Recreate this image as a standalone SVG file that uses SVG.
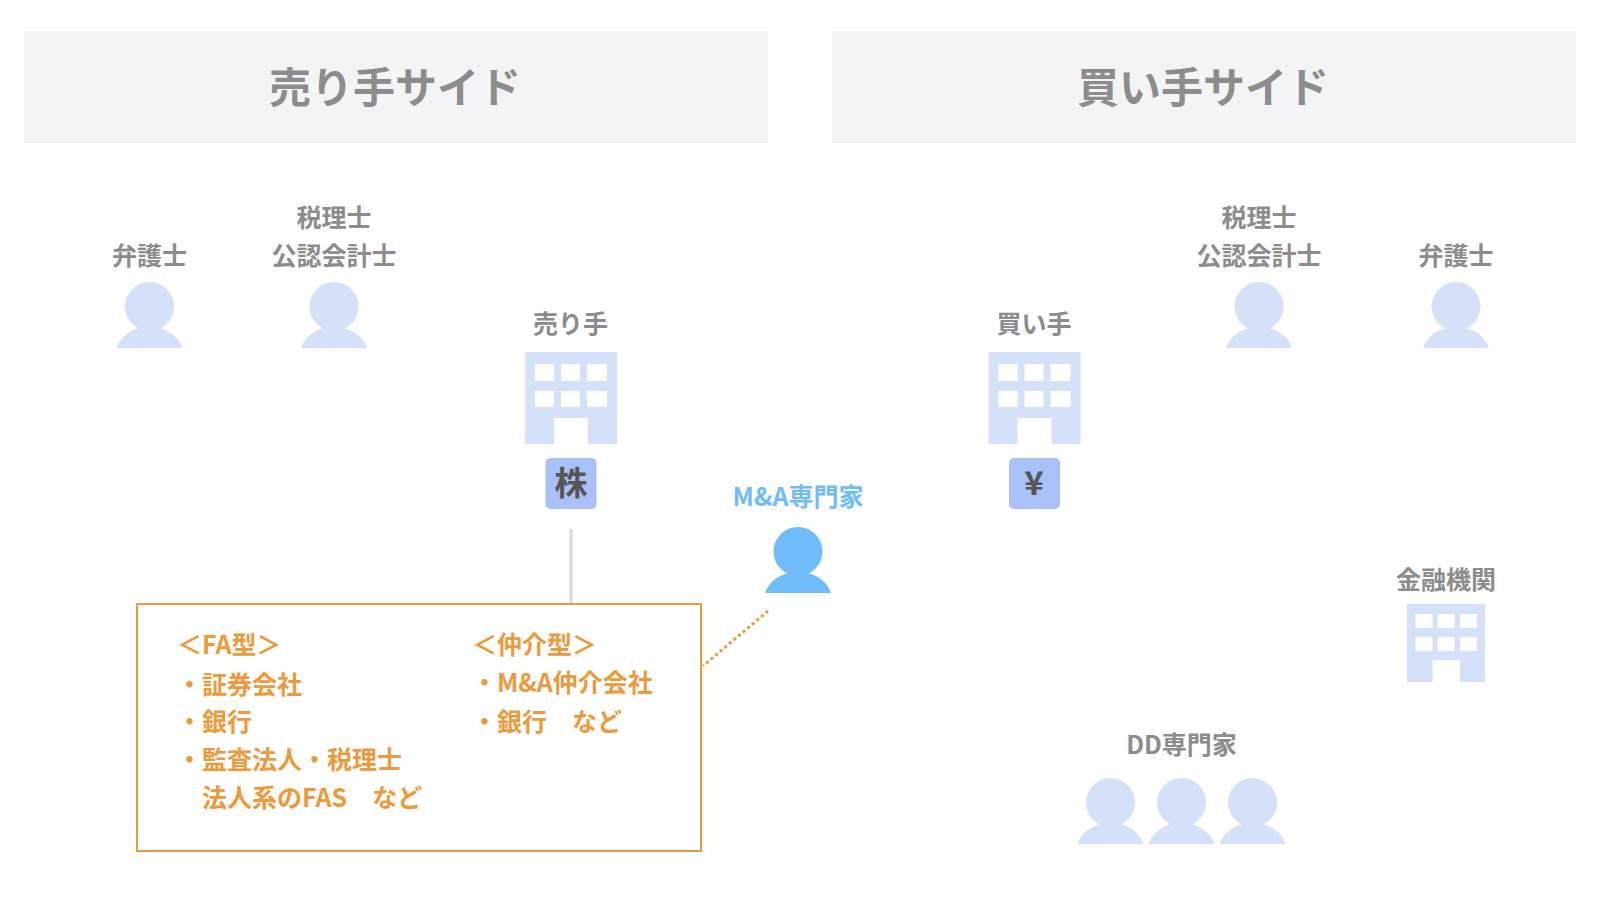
<svg xmlns="http://www.w3.org/2000/svg" width="1600" height="900" viewBox="0 0 1600 900">
<style>
text{font-family:"Noto Sans CJK JP","Liberation Sans",sans-serif;font-weight:700}
.h{font-size:42px;fill:#8c8c8c;text-anchor:middle}
.l{font-size:25px;fill:#8c8c8c;text-anchor:middle}
.o{font-size:25px;fill:#ec9a3c}
.b{font-size:33px;fill:#555;text-anchor:middle}
.hd{fill:#f4f4f6}
.p{fill:#d5e0f9}
.w{fill:#fff}
.bd{fill:#a9c1f8}
</style>
<defs>
<g id="person">
<ellipse cx="0" cy="24.5" rx="24.5" ry="24.5"/>
<path d="M-33 66C-28 52 -15 45 0 45C15 45 28 52 33 66Z"/>
</g>
<g id="bld">
<rect class="p" x="0" y="0" width="92" height="92"/>
<g class="w">
<rect x="10" y="12" width="19" height="17"/><rect x="36" y="12" width="19" height="17"/><rect x="62" y="12" width="20" height="17"/>
<rect x="10" y="39" width="19" height="16"/><rect x="36" y="39" width="19" height="16"/><rect x="62" y="39" width="20" height="16"/>
<rect x="29" y="66" width="34" height="26"/>
</g>
</g>
</defs>
<rect width="1600" height="900" fill="#fff"/>
<g id="header-seller"><rect class="hd" x="24" y="31" width="744" height="112"/><text class="h" x="395" y="102.500">売り手サイド</text></g>
<g id="header-buyer"><rect class="hd" x="832" y="31" width="744" height="112"/><text class="h" x="1203" y="102.500">買い手サイド</text></g>
<g id="connectors">
<line x1="571" y1="529" x2="571" y2="604" stroke="#d9d9d9" stroke-width="3"/>
<line x1="768" y1="611" x2="703" y2="666" stroke="#ec9a3c" stroke-width="3" stroke-dasharray="3 3"/>
</g>
<g id="s-lawyer"><text class="l" x="149.500" y="264.500">弁護士</text><use href="#person" class="p" x="149.500" y="282"/></g>
<g id="s-tax"><text class="l" x="334" y="227">税理士</text><text class="l" x="334" y="264.500">公認会計士</text><use href="#person" class="p" x="334" y="282"/></g>
<g id="seller"><text class="l" x="570.500" y="332.500">売り手</text><use href="#bld" x="525" y="352"/><rect class="bd" x="545.500" y="458" width="51" height="51" rx="5"/><text class="b" x="571" y="495">株</text></g>
<g id="buyer"><text class="l" x="1034" y="332.500">買い手</text><use href="#bld" x="988.500" y="352"/><rect class="bd" x="1009" y="458" width="51" height="51" rx="5"/><text class="b" x="1034" y="495">¥</text></g>
<g id="ma"><text class="l" x="798" y="505.500" style="fill:#70bcfb">M&amp;A専門家</text><use href="#person" x="798" y="527" fill="#70bcfb"/></g>
<g id="b-tax"><text class="l" x="1259" y="227">税理士</text><text class="l" x="1259" y="264.500">公認会計士</text><use href="#person" class="p" x="1259" y="282"/></g>
<g id="b-lawyer"><text class="l" x="1456" y="264.500">弁護士</text><use href="#person" class="p" x="1456" y="282"/></g>
<g id="bank"><text class="l" x="1446" y="588.500">金融機関</text>
<rect class="p" x="1407" y="604" width="78" height="78"/>
<g class="w"><rect x="1415.500" y="614" width="17" height="14"/><rect x="1437.500" y="614" width="17" height="14"/><rect x="1460" y="614" width="17" height="14"/><rect x="1415.500" y="637" width="17" height="14"/><rect x="1437.500" y="637" width="17" height="14"/><rect x="1460" y="637" width="17" height="14"/><rect x="1432.500" y="660" width="27.500" height="22"/></g></g>
<g id="dd"><text class="l" x="1181.500" y="753.500">DD専門家</text><use href="#person" class="p" x="1110.500" y="778"/><use href="#person" class="p" x="1181.500" y="778"/><use href="#person" class="p" x="1252.500" y="778"/></g>
<g id="ma-box"><rect x="137" y="604" width="564" height="247" fill="#fff" stroke="#ec9a3c" stroke-width="2"/>
<text class="o" x="177" y="654">＜FA型＞</text>
<text class="o" x="177" y="693.500">・証券会社</text>
<text class="o" x="177" y="731">・銀行</text>
<text class="o" x="177" y="769">・監査法人・税理士</text>
<text class="o" x="202" y="806.500">法人系のFAS　など</text>
<text class="o" x="472" y="654">＜仲介型＞</text>
<text class="o" x="472" y="691.500">・M&amp;A仲介会社</text>
<text class="o" x="472" y="731">・銀行　など</text>
</g>
</svg>
